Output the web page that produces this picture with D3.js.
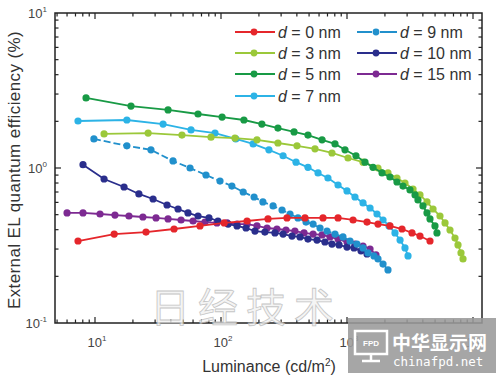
<!DOCTYPE html>
<html><head><meta charset="utf-8">
<script src="https://cdn.jsdelivr.net/npm/d3@7"></script>
<style>body{margin:0;background:#fff}svg{display:block}</style>
</head><body>
<svg id="c" width="500" height="379"></svg>
<script>
// ---- data ----
const seriesNames = ["d = 0 nm","d = 3 nm","d = 5 nm","d = 7 nm","d = 9 nm","d = 10 nm","d = 15 nm"];
const seriesLabelsNum = ["0","3","5","7","9","10","15"];
const d0_lum = [7.33,14.2,25.4,42.4,68.1,106,161,236,334,464,645,849,1117,1442,1762,2193,2733,3280,3795,4557];
const d0_eqe = [0.338,0.375,0.386,0.404,0.423,0.442,0.455,0.469,0.476,0.476,0.476,0.476,0.462,0.448,0.435,0.423,0.404,0.381,0.364,0.338];
const d3_lum = [11.8,26.4,49.0,83.3,129,193,283,401,557,760,1019,1340,1762,2115,2492,2886,3342,3795,4314,4818,5471,5998,6568,7197,7603,8032,8332];
const d3_eqe = [1.66,1.68,1.63,1.58,1.56,1.52,1.45,1.39,1.33,1.25,1.16,1.09,1.0,0.929,0.862,0.800,0.732,0.670,0.604,0.544,0.490,0.442,0.398,0.353,0.319,0.283,0.259];
const d5_lum = [8.49,19.3,38.0,65.7,102,152,211,283,380,490,634,803,964,1178,1390,1608,1897,2193,2492,2783,3162,3467,3658,4009,4314,4557,4992,5176];
const d5_eqe = [2.83,2.51,2.37,2.23,2.13,2.04,1.92,1.81,1.71,1.63,1.52,1.43,1.31,1.20,1.09,1.01,0.929,0.875,0.812,0.765,0.722,0.670,0.622,0.569,0.513,0.469,0.423,0.381];
const d7_lum = [7.33,17.9,34.7,57.8,89.6,131,180,240,311,394,490,589,706,849,1000,1157,1340,1524,1730,1932,2154,2403,2637,2886,3050];
const d7_eqe = [2.01,2.04,1.92,1.76,1.68,1.54,1.43,1.31,1.20,1.09,1.01,0.929,0.862,0.777,0.711,0.650,0.595,0.552,0.505,0.462,0.423,0.381,0.343,0.305,0.271];
const d9_lum = [9.8,17.9,27.8,41.6,56.8,76.0,98.2,122,150,183,215,259,305,353,408,473,538,611,694,803,929,1057,1200,1340,1468,1637,1762,1932,2115];
const d9_eqe = [1.54,1.39,1.31,1.11,1.0,0.901,0.824,0.765,0.700,0.650,0.604,0.569,0.536,0.505,0.476,0.448,0.435,0.410,0.392,0.375,0.359,0.338,0.323,0.305,0.283,0.271,0.259,0.240,0.220];
const d10_lum = [8.03,11.8,17.0,22.3,28.9,37.3,45.6,54.7,65.7,80.3,94.6,114,134,158,186,223,268,311,366,424,490,578,668,760,865,1000,1137,1291,1442];
const d10_eqe = [1.05,0.849,0.754,0.680,0.631,0.577,0.544,0.513,0.490,0.476,0.455,0.435,0.423,0.410,0.392,0.386,0.381,0.375,0.364,0.359,0.348,0.343,0.333,0.323,0.319,0.309,0.305,0.292,0.279];
const d15_lum = [6.0,8.03,10.96,14.4,18.6,24.0,30.5,38.0,48.2,60.0,74.6,92.9,112,134,161,193,232,278,328,386,456,538,634,733,849,1000,1157,1340,1524,1698];
const d15_eqe = [0.513,0.513,0.505,0.497,0.490,0.483,0.476,0.469,0.462,0.455,0.448,0.442,0.442,0.435,0.435,0.423,0.410,0.404,0.398,0.392,0.381,0.375,0.370,0.359,0.348,0.333,0.323,0.314,0.300,0.275];
const yTickExps = [1,0,-1];
const xTickExps = [1,2,3,4];

const colors = ["#e5262b","#9bc83a","#189a45","#2cb3e6","#2190cc","#2a2e8c","#7d2a92"];
const allLum = [d0_lum,d3_lum,d5_lum,d7_lum,d9_lum,d10_lum,d15_lum];
const allEqe = [d0_eqe,d3_eqe,d5_eqe,d7_eqe,d9_eqe,d10_eqe,d15_eqe];
const dashes = [null,null,null,null,"7,3",null,null];

const L=55,R=482,T=13,B=323;
const x = d3.scaleLog().domain([Math.pow(10,1+(L-95)/126), Math.pow(10,1+(R-95)/126)]).range([L,R]);
const y = d3.scaleLog().domain([0.1,10]).range([B,T]);

const svg = d3.select("#c");
const font = "Arial, 'Liberation Sans', sans-serif";

// series
const drawOrder = [6,5,4,3,1,2,0];
const line = d3.line().x(d=>x(d[0])).y(d=>y(d[1]));
drawOrder.forEach(i=>{
  const pts = allLum[i].map((v,k)=>[v,allEqe[i][k]]);
  const g = svg.append("g");
  g.append("path").attr("d",line(pts)).attr("fill","none")
    .attr("stroke",colors[i]).attr("stroke-width",1.8)
    .attr("stroke-dasharray",dashes[i]);
  g.selectAll("circle").data(pts).join("circle")
    .attr("cx",d=>x(d[0])).attr("cy",d=>y(d[1])).attr("r",3.6).attr("fill",colors[i]);
});

// frame
svg.append("rect").attr("x",L).attr("y",T).attr("width",R-L).attr("height",B-T)
  .attr("fill","none").attr("stroke","#222").attr("stroke-width",1.5);

// ticks
const isMajor = v => Math.abs(Math.log10(v)-Math.round(Math.log10(v)))<1e-6;
const xt = x.ticks();
const yt = y.ticks();
const tg = svg.append("g").attr("stroke","#222").attr("stroke-width",1.2);
xt.forEach(v=>{
  const p=x(v), len=isMajor(v)?6:3.5;
  if(p<L+0.5||p>R-0.5) return;
  tg.append("line").attr("x1",p).attr("x2",p).attr("y1",B).attr("y2",B-len);
  tg.append("line").attr("x1",p).attr("x2",p).attr("y1",T).attr("y2",T+len);
});
yt.forEach(v=>{
  const p=y(v), len=isMajor(v)?6:3.5;
  if(p<T+0.5||p>B-0.5) return;
  tg.append("line").attr("y1",p).attr("y2",p).attr("x1",L).attr("x2",L+len);
  tg.append("line").attr("y1",p).attr("y2",p).attr("x1",R).attr("x2",R-len);
});

// tick labels
yTickExps.forEach(e=>{
  const t = svg.append("text").attr("x",47).attr("y",y(Math.pow(10,e))+5)
    .attr("text-anchor","end").attr("font-family",font).attr("font-size",13).attr("fill","#444");
  t.append("tspan").text("10");
  t.append("tspan").attr("dy",-6).attr("font-size",8).text(e<0?"-"+(-e):String(e));
});
xTickExps.forEach(e=>{
  const t = svg.append("text").attr("x",x(Math.pow(10,e))+2).attr("y",347)
    .attr("text-anchor","middle").attr("font-family",font).attr("font-size",13).attr("fill","#444");
  t.append("tspan").text("10");
  t.append("tspan").attr("dy",-6).attr("font-size",8).text(String(e));
});

// axis titles
const xt2 = svg.append("text").attr("x",269).attr("y",372).attr("text-anchor","middle")
  .attr("font-family",font).attr("font-size",16).attr("fill","#333");
xt2.append("tspan").text("Luminance (cd/m");
xt2.append("tspan").attr("dy",-6).attr("font-size",10).text("2");
xt2.append("tspan").attr("dy",6).text(")");
svg.append("text").attr("transform","translate(20,170) rotate(-90)").attr("text-anchor","middle")
  .attr("font-family",font).attr("font-size",17).attr("letter-spacing",0.4).attr("fill","#333")
  .text("External EL quantum efficiency (%)");

// legend
const legPos = [[235,32],[235,53],[235,74],[235,96],[357,32],[357,53],[357,74]];
seriesNames.forEach((nm,i)=>{
  const [lx,ly]=legPos[i];
  svg.append("line").attr("x1",lx).attr("x2",lx+40).attr("y1",ly).attr("y2",ly)
    .attr("stroke",colors[i]).attr("stroke-width",2).attr("stroke-dasharray",dashes[i]?"15,8,17":null);
  svg.append("circle").attr("cx",lx+19).attr("cy",ly).attr("r",3.4).attr("fill",colors[i]);
  const t = svg.append("text").attr("x",lx+43).attr("y",ly+5.5)
    .attr("font-family",font).attr("font-size",16).attr("fill","#333");
  t.append("tspan").attr("font-style","italic").text("d");
  t.append("tspan").text(" = "+seriesLabelsNum[i]+" nm");
});

// faint watermark
svg.append("text").attr("x",150).attr("y",322).attr("font-family","'Noto Sans CJK SC', sans-serif")
  .attr("font-size",40).attr("letter-spacing",8).attr("fill","#f2f2f2").attr("stroke","#b8b8b8")
  .attr("stroke-width",0.8).attr("opacity",0.8).text("日经技术");

// site watermark box
const wm = svg.append("g");
wm.append("rect").attr("x",348).attr("y",318).attr("width",148).attr("height",55)
  .attr("fill","#9a9a9a").attr("opacity",0.88);
wm.append("rect").attr("x",355).attr("y",331).attr("width",32).attr("height",23)
  .attr("fill","none").attr("stroke","#fff").attr("stroke-width",2.5);
wm.append("line").attr("x1",371).attr("x2",371).attr("y1",354).attr("y2",360).attr("stroke","#fff").attr("stroke-width",2.5);
wm.append("line").attr("x1",362).attr("x2",380).attr("y1",361).attr("y2",361).attr("stroke","#fff").attr("stroke-width",2.5);
wm.append("text").attr("x",371).attr("y",346).attr("text-anchor","middle").attr("font-family",font)
  .attr("font-size",8).attr("font-weight","bold").attr("fill","#fff").text("FPD");
wm.append("text").attr("x",392).attr("y",350).attr("font-family","'Noto Sans CJK SC', sans-serif")
  .attr("font-size",19).attr("font-weight","bold").attr("fill","#fff").text("中华显示网");
wm.append("text").attr("x",393).attr("y",366).attr("font-family","'DejaVu Sans Mono', monospace")
  .attr("font-size",12.5).attr("fill","#fff").text("chinafpd.net");
</script>
</body></html>
